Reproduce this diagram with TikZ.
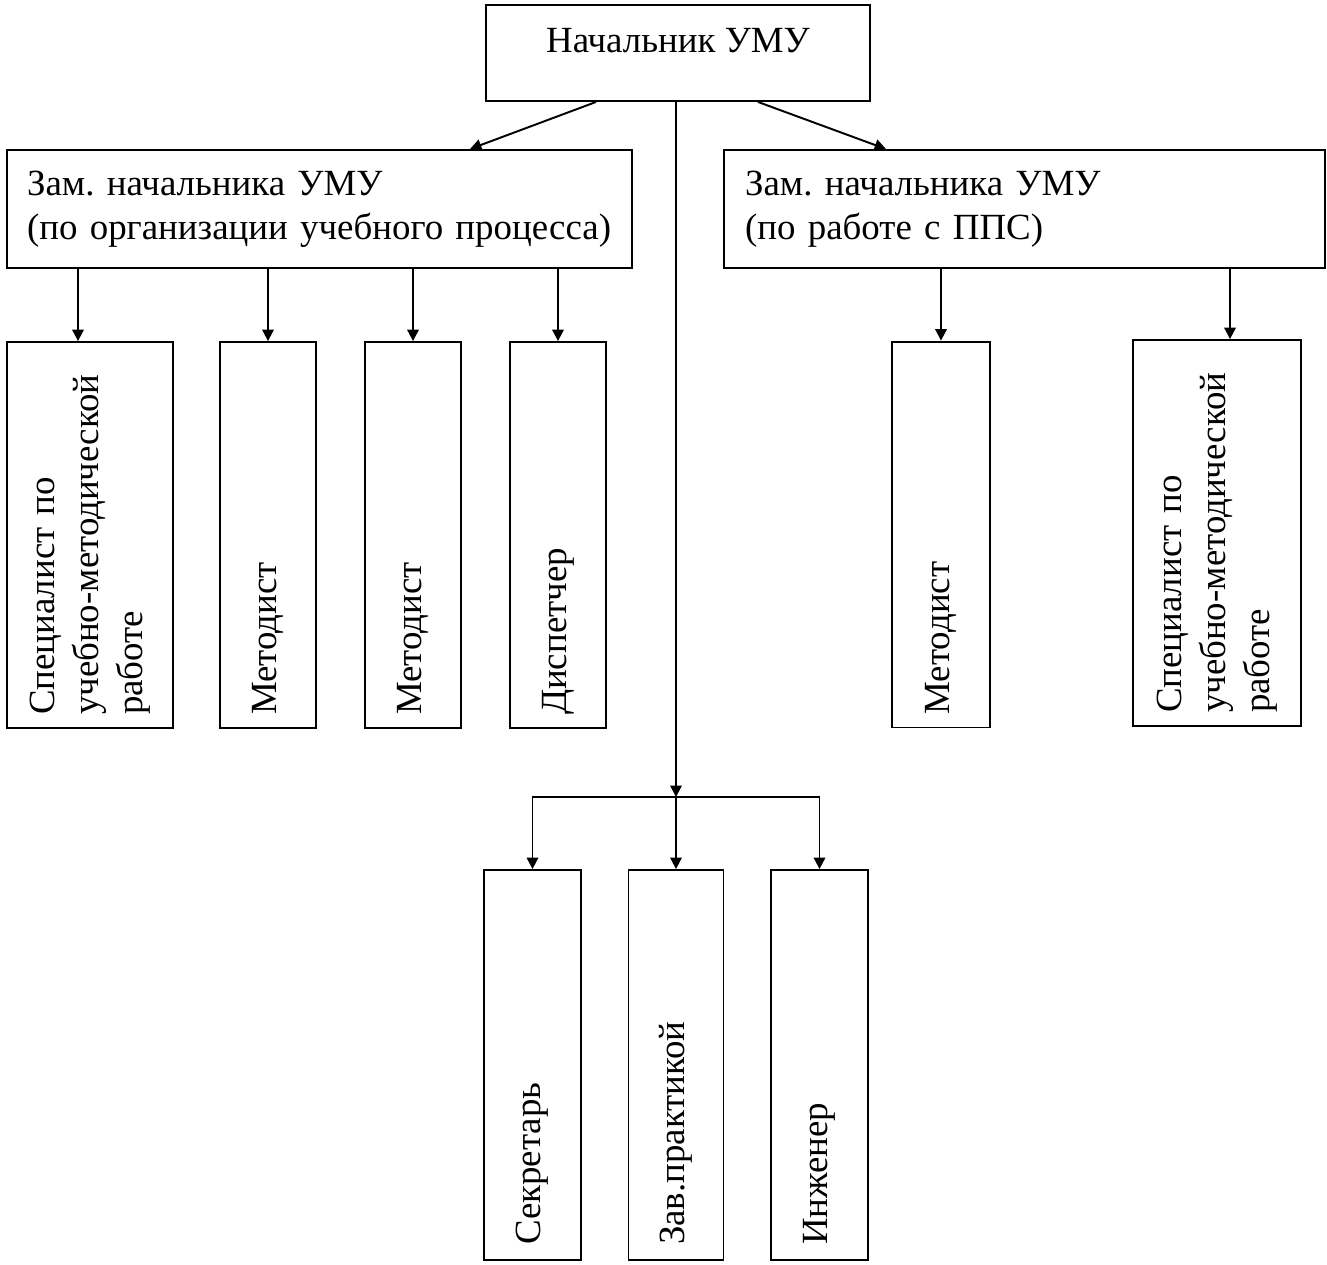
\documentclass[tikz,border=0pt]{standalone}
\usepackage{fontspec}
\setmainfont{Liberation Serif}
\frenchspacing
\usetikzlibrary{arrows.meta}
\tikzset{
    >={Triangle[length=6.5pt,width=6.5pt]},
    box/.style={draw, inner sep=0pt, font=\fontsize{21}{25}\selectfont},
    post/.style={box, rotate=90, align=left, inner xsep=0.26cm, text width=7.2cm, minimum width=7.72cm},
}
\begin{document}
\begin{tikzpicture}[x=0.02cm, y=-0.02cm, line width=1.1pt]
            \useasboundingbox (0,0) rectangle (1327,1264);
            \node[box, minimum width=7.68cm, minimum height=1.92cm, text height=0.5cm, text depth=0.5cm] (head) at (678,53) {Начальник УМУ};
            \node[box, minimum width=12.5cm, minimum height=2.36cm, align=left, text width=11.7cm, inner xsep=0.4cm] (zl) at (319.5,209) {Зам. начальника УМУ\\(по организации учебного процесса)};
            \node[box, minimum width=12.02cm, minimum height=2.36cm, align=left, text width=11.18cm, inner xsep=0.42cm] (zr) at (1024.5,209) {Зам. начальника УМУ\\(по работе с ППС)};

            \node[post, minimum height=3.32cm] (m0) at (90,535) {Специалист по\\учебно-методической\\работе};
            \node[post, minimum height=1.92cm] (m1) at (268,535) {Методист};
            \node[post, minimum height=1.92cm] (m2) at (413,535) {Методист};
            \node[post, minimum height=1.92cm] (m3) at (558,535) {Диспетчер};
            \node[post, minimum height=1.96cm] (r1) at (941,534.5) {Методист};
            \node[post, minimum height=3.36cm] (r2) at (1217,533) {Специалист по\\учебно-методической\\работе};

            \node[post, minimum height=1.94cm, minimum width=7.8cm, inner xsep=0.3cm] (b1) at (532.5,1065) {Секретарь};
            \node[post, minimum height=1.9cm, minimum width=7.8cm, inner xsep=0.3cm] (b2) at (676,1065) {Зав.практикой};
            \node[post, minimum height=1.94cm, minimum width=7.8cm, inner xsep=0.3cm] (b3) at (819.5,1065) {Инженер};
            \coordinate (hub) at (676,797);

            \draw[->] ([xshift=-1.64cm]head.south) -- ([xshift=3.01cm]zl.north);
            \draw[->] ([xshift=1.6cm]head.south) -- ([xshift=-2.77cm]zr.north);
            \draw[->] ([xshift=-0.24cm]m0.east |- zl.south) -- ([xshift=-0.24cm]m0.east);
            \foreach \n in {m1,m2,m3} \draw[->] (\n.east |- zl.south) -- (\n.east);
            \draw[->] (r1.east |- zr.south) -- (r1.east);
            \draw[->] ([xshift=0.26cm]r2.east |- zr.south) -- ([xshift=0.26cm]r2.east);
            \draw[->] (head.south -| hub) -- (hub);
            \foreach \n in {b1,b2,b3} \draw[->] (hub) -| (\n.east);

        \end{tikzpicture}
\end{document}
